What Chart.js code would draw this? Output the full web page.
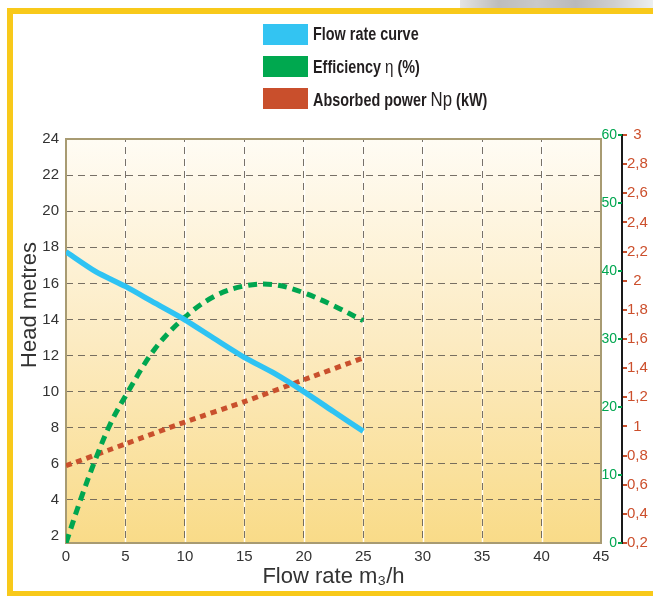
<!DOCTYPE html>
<html>
<head>
<meta charset="utf-8">
<script src="https://cdn.jsdelivr.net/npm/chart.js@4/dist/chart.umd.min.js"></script>
<style>
  html, body { margin: 0; padding: 0; background: #ffffff; }
  #wrap { position: relative; width: 653px; height: 596px; overflow: hidden; background: #fff; }
  #c { position: absolute; left: 0; top: 0; }
  .bar { position: absolute; background: #f8c91a; }
  #strip { position: absolute; left: 460px; top: 0; width: 193px; height: 8px;
    background: linear-gradient(to right, #e4e4e4 0%, #bdbdbd 20%, #c9c9c9 40%, #b9b9b9 60%, #cfcfcf 80%, #eceff0 100%); }
  #legend { position: absolute; left: 263px; top: 24px; font-family: 'Liberation Sans', Arial, sans-serif; font-weight: bold; font-size: 18px; color: #231f20; }
  .item { position: absolute; left: 0; height: 22px; white-space: nowrap; }
  .sw { position: absolute; left: 0; top: 0; width: 45px; height: 21px; }
  .lt { position: absolute; left: 50px; top: 0px; line-height: 21px; transform: scaleX(0.8); transform-origin: 0 50%; }
  .lt .n { font-weight: normal; }
</style>
</head>
<body>
<div id="wrap">
  <canvas id="c" width="653" height="596"></canvas>
  <div id="strip"></div>
  <div class="bar" style="left:7px;top:8px;width:646px;height:6px;"></div>
  <div class="bar" style="left:7px;top:8px;width:6px;height:588px;"></div>
  <div class="bar" style="left:7px;top:591px;width:646px;height:5px;"></div>
  <div id="legend">
    <div class="item" style="top:0px;"><div class="sw" style="background:#33c4f2;"></div><div class="lt">Flow rate curve</div></div>
    <div class="item" style="top:32px;"><div class="sw" style="background:#00a84f;"></div><div class="lt">Efficiency <span class="n" style="font-size:19px;">η</span> (%)</div></div>
    <div class="item" style="top:64px;"><div class="sw" style="background:#c94f2c;"></div><div class="lt">Absorbed power <span class="n" style="font-size:21px;">Np</span> (kW)</div></div>
  </div>
</div>
<script>
// ---- data ----
const FLOW_Q = [0, 2.5, 5, 7.5, 10, 12.5, 15, 17.5, 20, 22.5, 25];
const HEAD = [17.75, 16.65, 15.83, 14.9, 13.98, 12.93, 11.9, 11.02, 10.0, 8.9, 7.8];

const EFF_Q = [0, 1.25, 2.5, 3.75, 5, 7.5, 10, 12.5, 15, 17.5, 20, 22.5, 25];
const EFFICIENCY = [0, 6.5, 12.4, 17.6, 21.6, 28.6, 33.2, 36.3, 37.8, 38.0, 36.8, 34.9, 32.7];

const POW_Q = [0, 5, 10, 15, 20, 25];
const POWER = [0.73, 0.88, 1.03, 1.17, 1.32, 1.47];

const X_TICKS = [0, 5, 10, 15, 20, 25, 30, 35, 40, 45];
const HEAD_TICKS = [2, 4, 6, 8, 10, 12, 14, 16, 18, 20, 22, 24];
const EFF_TICKS = [0, 10, 20, 30, 40, 50, 60];
const POWER_TICKS = [0.2, 0.4, 0.6, 0.8, 1, 1.2, 1.4, 1.6, 1.8, 2, 2.2, 2.4, 2.6, 2.8, 3];

const HEAD_MIN = 1.612, HEAD_MAX = 24.222;
const SANS = "'Liberation Sans', Arial, sans-serif";
const TEXT = '#333333';

const pts = (xs, ys) => xs.map((x, i) => ({ x: x, y: ys[i] }));
const setTicks = arr => (scale) => { scale.ticks = arr.map(v => ({ value: v })); };

const plotPlugin = {
  id: 'plotBox',
  beforeDraw(chart) {
    const { ctx } = chart;
    const x = chart.scales.x, y = chart.scales.y;
    const l = x.getPixelForValue(0), r = x.getPixelForValue(45);
    const t = y.getPixelForValue(24), b = chart.chartArea.bottom;
    const g = ctx.createLinearGradient(0, t, 0, b);
    g.addColorStop(0, '#fffcf4');
    g.addColorStop(0.5, '#fcebc2');
    g.addColorStop(1, '#f9db88');
    ctx.save();
    ctx.fillStyle = g;
    ctx.fillRect(l, t, r - l, b - t);
    ctx.strokeStyle = 'rgba(255,255,255,0.9)';
    ctx.lineWidth = 1.5;
    X_TICKS.forEach(v => {
      if (v === 0 || v === 45) return;
      const px = Math.round(x.getPixelForValue(v)) + 0.5;
      ctx.beginPath(); ctx.moveTo(px, t); ctx.lineTo(px, b); ctx.stroke();
    });
    ctx.restore();
  },
  beforeDatasetsDraw(chart) {
    const { ctx } = chart;
    const x = chart.scales.x, y = chart.scales.y;
    const l = x.getPixelForValue(0), r = x.getPixelForValue(45);
    const t = y.getPixelForValue(24), b = chart.chartArea.bottom;
    ctx.save();
    ctx.fillStyle = '#ffffff';
    ctx.fillRect(l - 1, chart.chartArea.top, r - l + 2, t - chart.chartArea.top);
    ctx.strokeStyle = '#a89b72';
    ctx.lineWidth = 2;
    ctx.strokeRect(l, t, r - l, b - t);
    ctx.restore();
  },
  afterDraw(chart) {
    const { ctx } = chart;
    const e = chart.scales.yE;
    const p = chart.scales.yP;
    ctx.save();
    ctx.strokeStyle = '#00a650';
    ctx.lineWidth = 2;
    e.ticks.forEach(tk => {
      const py = e.getPixelForValue(tk.value);
      ctx.beginPath(); ctx.moveTo(e.right + 1, py); ctx.lineTo(p.left, py); ctx.stroke();
    });
    // left axis title
    ctx.fillStyle = TEXT;
    ctx.font = "22px " + SANS;
    ctx.textAlign = 'center';
    ctx.textBaseline = 'middle';
    ctx.translate(30, 305);
    ctx.rotate(-Math.PI / 2);
    ctx.fillText('Head metres', 0, 0);
    ctx.restore();
  }
};

const gridColor = 'rgba(95,88,80,0.85)';

new Chart(document.getElementById('c'), {
  type: 'line',
  data: {
    datasets: [
      { label: 'Flow rate curve', data: pts(FLOW_Q, HEAD), yAxisID: 'y',
        borderColor: '#2fc3f3', borderWidth: 5.5, tension: 0.25, pointRadius: 0, fill: false },
      { label: 'Efficiency η (%)', data: pts(EFF_Q, EFFICIENCY), yAxisID: 'yE',
        borderColor: '#00a650', borderWidth: 5, borderDash: [9, 6], tension: 0.35, pointRadius: 0, fill: false },
      { label: 'Absorbed power Np (kW)', data: pts(POW_Q, POWER), yAxisID: 'yP',
        borderColor: '#c9502d', borderWidth: 5, borderDash: [6, 5], tension: 0.2, pointRadius: 0, fill: false }
    ]
  },
  options: {
    responsive: false,
    animation: false,
    devicePixelRatio: 1,
    layout: { padding: { top: 135, left: 0, right: 0, bottom: 0 } },
    plugins: { legend: { display: false }, tooltip: { enabled: false } },
    scales: {
      x: {
        type: 'linear', position: 'bottom', min: 0, max: 45,
        afterBuildTicks: setTicks(X_TICKS),
        afterFit: s => { s.height = 53; },
        grid: {
          drawTicks: false,
          color: c => (c.tick && (c.tick.value === 0 || c.tick.value === 45)) ? 'rgba(0,0,0,0)' : gridColor,
          lineWidth: 1
        },
        border: { display: false, dash: [7, 5] },
        ticks: { padding: 5, color: TEXT, font: { family: SANS, size: 15 }, maxRotation: 0, autoSkip: false },
        title: { display: true, text: 'Flow rate m₃/h', color: TEXT,
          font: { family: SANS, size: 22 }, padding: { top: 0, bottom: 6 } }
      },
      y: {
        type: 'linear', position: 'left', min: HEAD_MIN, max: HEAD_MAX,
        afterBuildTicks: setTicks(HEAD_TICKS),
        afterFit: s => { s.width = 66; },
        grid: {
          drawTicks: false,
          color: c => (c.tick && (c.tick.value === 2 || c.tick.value === 24)) ? 'rgba(0,0,0,0)' : gridColor,
          lineWidth: 1
        },
        border: { display: false, dash: [7, 5] },
        ticks: { padding: 7, color: TEXT, font: { family: SANS, size: 15 }, autoSkip: false }
      },
      yE: {
        type: 'linear', position: 'right', weight: 1, min: 0, max: 60,
        afterBuildTicks: setTicks(EFF_TICKS),
        afterFit: s => { s.width = 16; },
        grid: { drawOnChartArea: false, drawTicks: false },
        border: { display: false },
        ticks: { padding: 0, crossAlign: 'far', color: '#00a650', font: { family: SANS, size: 14 }, autoSkip: false }
      },
      gap: {
        type: 'linear', position: 'right', weight: 2, min: 0, max: 1,
        afterFit: s => { s.width = 5; },
        grid: { display: false, drawOnChartArea: false, drawTicks: false },
        border: { display: false },
        ticks: { display: false }
      },
      yP: {
        type: 'linear', position: 'right', weight: 3, min: 0.2, max: 3,
        afterBuildTicks: setTicks(POWER_TICKS),
        afterFit: s => { s.width = 31; },
        grid: { drawOnChartArea: false, drawTicks: true, tickLength: 5, color: '#c9502d', lineWidth: 2 },
        border: { display: true, color: '#1a1a1a', width: 2 },
        ticks: { padding: 0, crossAlign: 'center', color: '#cc4f2c', font: { family: SANS, size: 15 }, autoSkip: false,
          callback: v => String(Math.round(v * 10) / 10).replace('.', ',') }
      }
    }
  },
  plugins: [plotPlugin]
});
</script>
</body>
</html>
